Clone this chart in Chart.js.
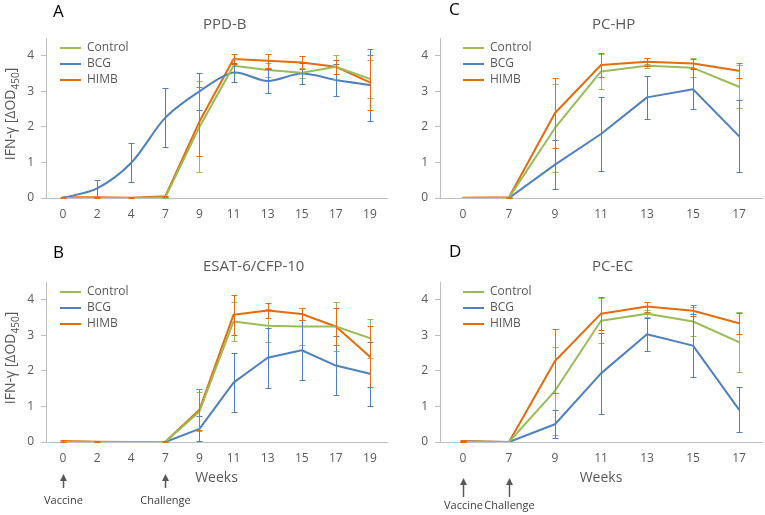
<!DOCTYPE html>
<html>
<head>
<meta charset="utf-8">
<script src="https://cdn.jsdelivr.net/npm/chart.js@4.4.0/dist/chart.umd.min.js"></script>
<style>
  html, body { margin: 0; padding: 0; background: #fff; }
  body { width: 765px; height: 515px; position: relative; overflow: hidden; font-family: 'Open Sans', sans-serif; color: #595959; }
  .pane { position: absolute; }
  .ttl { position: absolute; font-size: 15px; line-height: 18px; white-space: nowrap; }
  .let { position: absolute; font-size: 17px; line-height: 20px; color: #000; }
  .ytl { position: absolute; width: 130px; height: 20px; line-height: 20px; font-size: 14px; text-align: center; white-space: nowrap; transform: rotate(-90deg); }
  .ytl sub { font-size: 10px; line-height: 0; }
</style>
</head>
<body>
<div class="pane" style="left:0;top:0;"><canvas id="cA" width="392" height="240"></canvas></div>
<div class="pane" style="left:392px;top:0;"><canvas id="cC" width="373" height="240"></canvas></div>
<div class="pane" style="left:0;top:244px;"><canvas id="cB" width="392" height="271"></canvas></div>
<div class="pane" style="left:392px;top:244px;"><canvas id="cD" width="373" height="271"></canvas></div>

<div class="let" style="left:53px;top:1px;">A</div>
<div class="let" style="left:449px;top:-1px;">C</div>
<div class="let" style="left:53px;top:242px;">B</div>
<div class="let" style="left:449px;top:241px;">D</div>

<div class="ttl" style="left:203px;top:14px;">PPD-B</div>
<div class="ttl" style="left:592px;top:14px;">PC-HP</div>
<div class="ttl" style="left:203px;top:256px;">ESAT-6/CFP-10</div>
<div class="ttl" style="left:592px;top:256px;">PC-EC</div>

<div class="ytl" style="left:-55px;top:104px;">IFN-γ [ΔOD<sub>450</sub>]</div>
<div class="ytl" style="left:-55px;top:348px;">IFN-γ [ΔOD<sub>450</sub>]</div>

<script>
// weeks on the x axis
const weeksAB = ['0', '2', '4', '7', '9', '11', '13', '15', '17', '19'];
const weeksCD = ['0', '7', '9', '11', '13', '15', '17'];
const groupNames = ['Control', 'BCG', 'HIMB'];
const yTicks = [0, 1, 2, 3, 4];
const yMax = 4.5;
const arrowWeeks = ['0', '7'];
const arrowTexts = ['Vaccine', 'Challenge'];

// A - PPD-B
const ppdControl = [0, 0, 0, 0.02, 2.0, 3.72, 3.6, 3.52, 3.69, 3.35];
const ppdControlErr = [0, 0, 0, 0.02, 1.28, 0.2, 0.2, 0.15, 0.33, 0.53];
const ppdBCG = [0, 0.27, 0.99, 2.26, 3.0, 3.53, 3.29, 3.5, 3.32, 3.18];
const ppdBCGErr = [0, 0.24, 0.55, 0.83, 0.52, 0.28, 0.34, 0.3, 0.45, 1.02];
const ppdHIMB = [0.02, 0.02, 0.01, 0.05, 2.15, 3.91, 3.86, 3.81, 3.69, 3.25];
const ppdHIMBErr = [0.01, 0.01, 0.01, 0.02, 0.98, 0.14, 0.19, 0.17, 0.2, 0.78];

// B - ESAT-6/CFP-10
const esatControl = [0.01, 0, 0, 0, 0.86, 3.39, 3.27, 3.25, 3.25, 2.92];
const esatControlErr = [0.01, 0, 0, 0.01, 0.56, 0.56, 0.47, 0.53, 0.7, 0.55];
const esatBCG = [0, 0, 0, 0, 0.37, 1.67, 2.37, 2.58, 2.15, 1.92];
const esatBCGErr = [0, 0, 0, 0, 0.35, 0.84, 0.85, 0.84, 0.84, 0.9];
const esatHIMB = [0.03, 0.01, 0, 0.01, 0.91, 3.58, 3.7, 3.6, 3.25, 2.4];
const esatHIMBErr = [0.02, 0.01, 0, 0.01, 0.57, 0.56, 0.21, 0.17, 0.53, 0.85];

// C - PC-HP
const hpControl = [0, 0.01, 1.97, 3.56, 3.72, 3.66, 3.13];
const hpControlErr = [0, 0.01, 1.23, 0.5, 0.05, 0.27, 0.6];
const hpBCG = [0, 0, 0.94, 1.8, 2.83, 3.06, 1.74];
const hpBCGErr = [0, 0, 0.69, 1.05, 0.61, 0.57, 1.02];
const hpHIMB = [0.01, 0.02, 2.39, 3.74, 3.83, 3.78, 3.58];
const hpHIMBErr = [0, 0.01, 0.99, 0.33, 0.11, 0.12, 0.21];

// D - PC-EC
const ecControl = [0.01, 0, 1.44, 3.41, 3.61, 3.39, 2.81];
const ecControlErr = [0.01, 0, 1.23, 0.63, 0.1, 0.42, 0.84];
const ecBCG = [0.01, 0, 0.5, 1.93, 3.03, 2.71, 0.91];
const ecBCGErr = [0.01, 0, 0.39, 1.13, 0.47, 0.88, 0.63];
const ecHIMB = [0.03, 0, 2.28, 3.61, 3.81, 3.69, 3.34];
const ecHIMBErr = [0.02, 0, 0.89, 0.46, 0.14, 0.15, 0.3];

const lineColors = ['#9BBB59', '#4F81BD', '#E46C0A'];
const txt = '#595959', axisGrey = '#bfbfbf';
Chart.defaults.font.family = "'Open Sans', sans-serif";

// vertical error bars with small caps
const errorBars = {
    id: 'errorBars',
    afterDatasetsDraw(chart) {
        const ctx = chart.ctx, ys = chart.scales.y;
        chart.data.datasets.forEach((ds, i) => {
            const meta = chart.getDatasetMeta(i);
            ctx.save();
            ctx.strokeStyle = ds.borderColor;
            ctx.lineWidth = 1;
            meta.data.forEach((pt, j) => {
                const e = ds.errors[j];
                if (!e) return;
                const x = Math.round(pt.x) + 0.5;
                const t = Math.round(ys.getPixelForValue(ds.data[j] + e)) + 0.5;
                const b = Math.round(ys.getPixelForValue(ds.data[j] - e)) + 0.5;
                ctx.beginPath();
                ctx.moveTo(x, t); ctx.lineTo(x, b);
                ctx.moveTo(x - 3, t); ctx.lineTo(x + 3, t);
                ctx.moveTo(x - 3, b); ctx.lineTo(x + 3, b);
                ctx.stroke();
            });
            ctx.restore();
        });
    }
};

// put the legend inside the plot, top left
const legendShift = dx => ({
    id: 'legendShift',
    afterLayout(chart) {
        const lg = chart.legend, ca = chart.chartArea;
        const w = lg.width, h = lg.height;
        lg.left = ca.left + dx; lg.right = lg.left + w;
        lg.top = ca.top; lg.bottom = lg.top + h;
    }
});

// Vaccine / Challenge arrows under the week axis
const arrowPlugin = a => ({
    id: 'arrowMarks',
    afterDraw(chart) {
        const ctx = chart.ctx, xs = chart.scales.x, base = chart.chartArea.bottom;
        ctx.save();
        arrowWeeks.forEach((wk, i) => {
            const px = Math.round(xs.getPixelForValue(xs.getLabels().indexOf(wk))) + 0.5;
            const tip = base + a.tip, tail = base + a.tail;
            ctx.strokeStyle = txt; ctx.fillStyle = txt; ctx.lineWidth = 1.5;
            ctx.beginPath(); ctx.moveTo(px, tip + 4); ctx.lineTo(px, tail); ctx.stroke();
            ctx.beginPath(); ctx.moveTo(px, tip); ctx.lineTo(px - 3.5, tip + 7); ctx.lineTo(px + 3.5, tip + 7); ctx.closePath(); ctx.fill();
            ctx.font = "11px 'Open Sans', sans-serif";
            ctx.textAlign = 'center'; ctx.textBaseline = 'middle';
            ctx.fillStyle = '#404040';
            ctx.fillText(arrowTexts[i], px, base + a.text);
        });
        ctx.restore();
    }
});

function makePanel(id, labels, values, errors, cfg) {
    const datasets = groupNames.map((name, i) => ({
        label: name,
        data: values[i],
        errors: errors[i],
        borderColor: lineColors[i],
        backgroundColor: lineColors[i],
        borderWidth: 2,
        pointRadius: 0,
        pointHoverRadius: 0,
        tension: cfg.smooth === i ? 0.3 : 0,
        borderJoinStyle: 'round',
        borderCapStyle: 'round'
    }));
    const plugins = [errorBars, legendShift(cfg.legendDx)];
    if (cfg.arrows) plugins.push(arrowPlugin(cfg.arrows));

    new Chart(document.getElementById(id), {
        type: 'line',
        data: { labels: labels, datasets: datasets },
        options: {
            responsive: false,
            animation: false,
            layout: { padding: { top: 38, right: cfg.rightPad, left: 0, bottom: 0 } },
            scales: {
                x: {
                    offset: true,
                    grid: { display: false, drawTicks: false },
                    border: { display: true, color: axisGrey },
                    ticks: { color: txt, font: { size: 12 }, padding: 9, maxRotation: 0, autoSkip: false },
                    title: { display: !!cfg.arrows, text: 'Weeks', color: txt, font: { size: 14 }, padding: { top: 0, bottom: 29 } },
                    afterFit: s => { s.height = cfg.xHeight; }
                },
                y: {
                    min: 0, max: yMax,
                    ticks: { stepSize: 1, color: txt, font: { size: 12 }, padding: 7 },
                    afterBuildTicks: s => { s.ticks = yTicks.map(v => ({ value: v })); },
                    grid: { drawOnChartArea: false, drawTicks: true, tickLength: 5, color: axisGrey },
                    border: { display: true, color: axisGrey },
                    afterFit: s => { s.width = cfg.yWidth; }
                }
            },
            plugins: {
                legend: {
                    position: 'chartArea',
                    align: 'start',
                    labels: {
                        usePointStyle: true, pointStyle: 'line', pointStyleWidth: 21,
                        color: txt, font: { size: 12 }, padding: 4
                    }
                },
                tooltip: { enabled: false }
            }
        },
        plugins: plugins
    });
}

makePanel('cA', weeksAB, [ppdControl, ppdBCG, ppdHIMB], [ppdControlErr, ppdBCGErr, ppdHIMBErr],
    { yWidth: 46, rightPad: 5, xHeight: 42, legendDx: 10, smooth: 1 });
makePanel('cC', weeksCD, [hpControl, hpBCG, hpHIMB], [hpControlErr, hpBCGErr, hpHIMBErr],
    { yWidth: 48, rightPad: 3, xHeight: 42, legendDx: 19 });
makePanel('cB', weeksAB, [esatControl, esatBCG, esatHIMB], [esatControlErr, esatBCGErr, esatHIMBErr],
    { yWidth: 46, rightPad: 5, xHeight: 73, legendDx: 10, arrows: { tip: 32, tail: 46, text: 59 } });
makePanel('cD', weeksCD, [ecControl, ecBCG, ecHIMB], [ecControlErr, ecBCGErr, ecHIMBErr],
    { yWidth: 48, rightPad: 3, xHeight: 73, legendDx: 19, arrows: { tip: 36, tail: 55, text: 64 } });
</script>
</body>
</html>
